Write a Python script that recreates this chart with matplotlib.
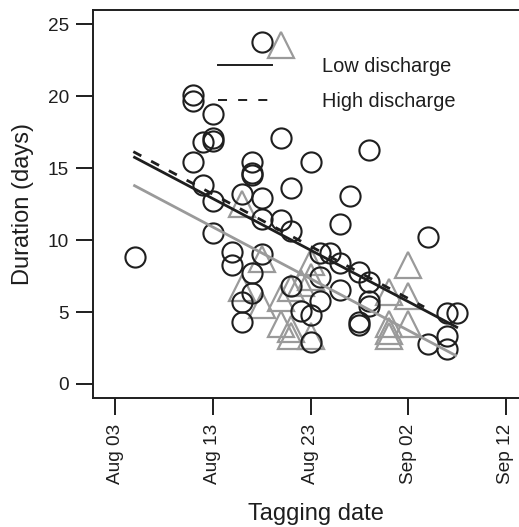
import matplotlib
matplotlib.use("Agg")
import matplotlib.pyplot as plt
import matplotlib.dates as mdates
from matplotlib.lines import Line2D
import pandas as pd

plt.rcParams["font.family"] = ["Liberation Sans", "DejaVu Sans"]
plt.rcParams["lines.scale_dashes"] = False

YEAR = "2010"

# Fish tagged (circles): tagging date and time to pass (days)
circle_dates = [
    "Aug 18", "Aug 11", "Aug 11", "Aug 13", "Aug 12", "Aug 13", "Aug 13", "Aug 20",
    "Aug 11", "Aug 17", "Aug 17", "Aug 17", "Aug 23", "Aug 12", "Aug 21", "Aug 16",
    "Aug 18", "Aug 29", "Aug 27", "Aug 05", "Aug 13", "Aug 18", "Aug 20", "Aug 21",
    "Aug 13", "Aug 15", "Aug 15", "Aug 18", "Aug 17", "Aug 17", "Aug 16", "Aug 16",
    "Aug 21", "Aug 22", "Aug 23", "Aug 23", "Aug 24", "Aug 25", "Aug 26", "Sep 04",
    "Aug 26", "Aug 28", "Aug 29", "Aug 24", "Aug 26", "Aug 24", "Aug 29", "Aug 29",
    "Aug 28", "Aug 28", "Sep 06", "Sep 07", "Sep 04", "Sep 06", "Sep 06",
]
circle_days = [
    23.8, 20.1, 19.7, 18.8, 16.8, 17.1, 16.9, 17.1,
    15.4, 15.4, 14.7, 14.5, 15.4, 13.8, 13.6, 13.2,
    12.9, 16.3, 13.1, 8.8, 12.7, 11.5, 11.4, 10.6,
    10.5, 9.2, 8.3, 9.0, 7.7, 6.3, 5.7, 4.3,
    6.8, 5.1, 4.8, 2.9, 9.1, 9.1, 11.1, 10.2,
    8.4, 7.8, 7.1, 7.4, 6.5, 5.8, 5.8, 5.4,
    4.3, 4.1, 4.9, 4.9, 2.8, 3.3, 2.4,
]

# Second group (triangles)
triangle_dates = [
    "Aug 20", "Aug 16", "Aug 18", "Aug 16", "Aug 18", "Aug 20", "Aug 21", "Aug 21",
    "Aug 23", "Aug 23", "Aug 22", "Aug 23", "Aug 21", "Sep 02", "Aug 31", "Sep 02",
    "Aug 31", "Aug 31", "Sep 02", "Aug 31", "Aug 20",
]
triangle_days = [
    23.6, 12.5, 8.7, 6.7, 5.5, 4.2, 3.3, 6.7,
    8.5, 7.4, 7.0, 3.3, 3.8, 8.3, 6.4, 6.1,
    4.2, 3.7, 4.2, 3.3, 6.0,
]

# Fitted trend lines (end points)
low_fit_dates = ["Aug 04 21:00", "Sep 07 02:00"]
low_fit_days = [15.8, 3.9]
high_fit_dates = ["Aug 04 21:00", "Sep 03 15:00"]
high_fit_days = [16.15, 5.35]
grey_fit_dates = ["Aug 04 21:00", "Sep 06 23:00"]
grey_fit_days = [13.83, 1.94]

tick_dates = ["Aug 03", "Aug 13", "Aug 23", "Sep 02", "Sep 12"]
y_ticks = [0, 5, 10, 15, 20, 25]


def to_dt(values):
    out = []
    for v in values:
        fmt = "%Y %b %d %H:%M" if ":" in v else "%Y %b %d"
        out.append(pd.to_datetime(f"{YEAR} {v}", format=fmt))
    return out


INK = "#1e1e1e"
GREY = "#9a9a9a"

W, H = 519, 527
fig = plt.figure(figsize=(W / 100, H / 100), dpi=100)
left_px, right_px, bottom_px, top_px = 92.7, 540.0, 398.3, 10.0
ax = fig.add_axes([left_px / W, 1 - bottom_px / H,
                   (right_px - left_px) / W, (bottom_px - top_px) / H])

ax.plot(to_dt(triangle_dates), triangle_days, linestyle="none", marker="^",
        markersize=19, markerfacecolor="none", markeredgecolor=GREY,
        markeredgewidth=1.6, zorder=2)
ax.plot(to_dt(circle_dates), circle_days, linestyle="none", marker="o",
        markersize=14.5, markerfacecolor="none", markeredgecolor=INK,
        markeredgewidth=1.5, zorder=3)

ax.plot(to_dt(grey_fit_dates), grey_fit_days, color=GREY, lw=2.0,
        solid_capstyle="butt", zorder=4)
ax.plot(to_dt(low_fit_dates), low_fit_days, color=INK, lw=2.0,
        solid_capstyle="butt", zorder=5)
ax.plot(to_dt(high_fit_dates), high_fit_days, color=INK, lw=2.0,
        dashes=(6.5, 8.0), dash_capstyle="butt", zorder=5)

x0 = mdates.date2num(pd.to_datetime(f"{YEAR} Aug 03", format="%Y %b %d"))
px_per_day = 9.775
ax.set_xlim(x0 + (left_px - 115.0) / px_per_day,
            x0 + (right_px - 115.0) / px_per_day)
ax.set_ylim(-1, 26)

ax.set_xticks(to_dt(tick_dates))
ax.xaxis.set_major_formatter(mdates.DateFormatter("%b %d"))
ax.set_yticks(y_ticks)

for side in ["left", "bottom", "top", "right"]:
    ax.spines[side].set_color(INK)
    ax.spines[side].set_linewidth(1.4)

ax.tick_params(axis="both", direction="out", length=12.2, width=1.4,
               color=INK, labelcolor=INK, labelsize=13.7)
ax.tick_params(axis="y", pad=5)
ax.tick_params(axis="x", pad=5.8, labelrotation=90)

ax.set_ylabel("Duration (days)", fontsize=17, color=INK)
ax.set_xlabel("Tagging date", fontsize=17, color=INK)
axw = right_px - left_px
axh = bottom_px - top_px
ax.yaxis.set_label_coords((34 - left_px) / axw, 0.5)
ax.xaxis.set_label_coords((316 - left_px) / axw, -(503 - bottom_px) / axh)

handles = [
    Line2D([], [], color=INK, lw=1.4),
    Line2D([], [], color=INK, lw=1.4, dashes=(6.5, 8.0)),
]
leg = ax.legend(handles, ["Low discharge", "High discharge"], loc="upper left",
                bbox_to_anchor=((218 - left_px) / axw, 1 - (57 - top_px) / axh),
                frameon=False, fontsize=14.4, handlelength=2.7,
                handletextpad=2.5, labelspacing=0.8, borderpad=0,
                borderaxespad=0)
for t in leg.get_texts():
    t.set_color(INK)

fig.savefig("out.png", dpi=100)
